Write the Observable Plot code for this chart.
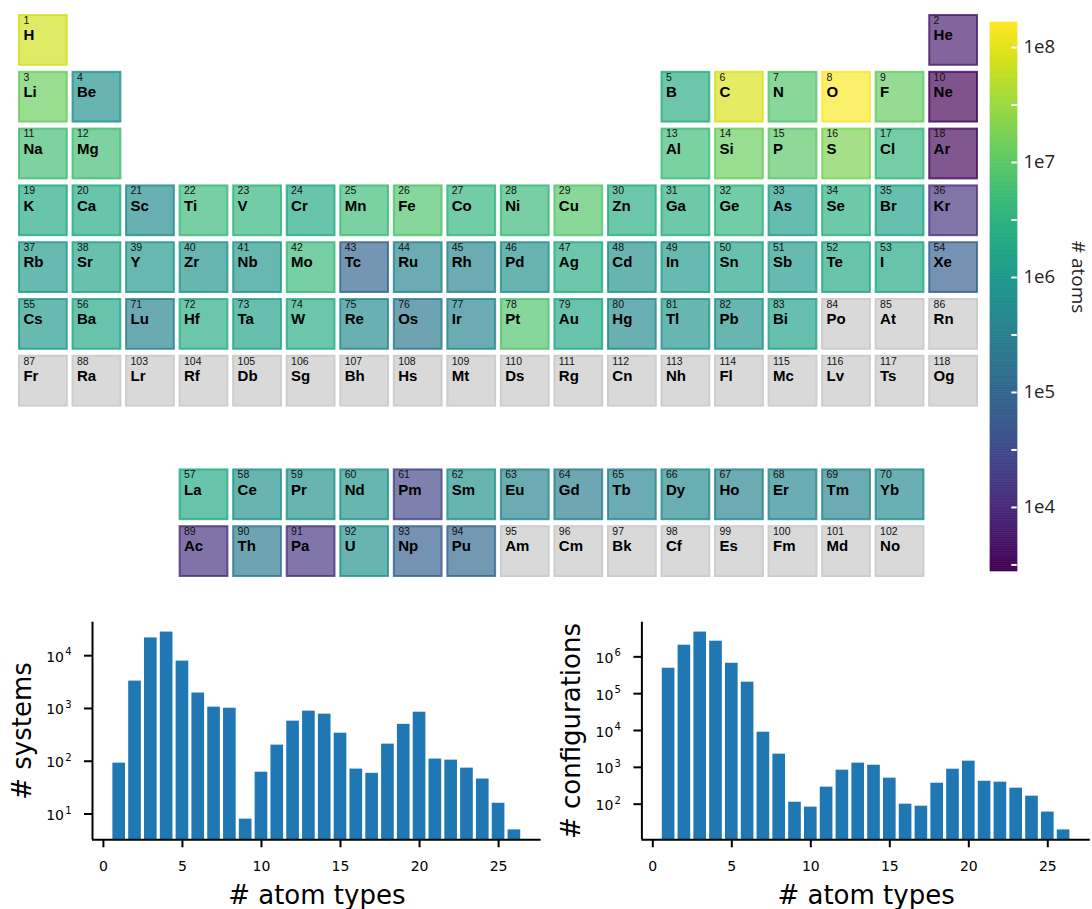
<!DOCTYPE html>
<html><head><meta charset="utf-8">
<script src="https://cdn.jsdelivr.net/npm/d3@7"></script>
<script src="https://cdn.jsdelivr.net/npm/@observablehq/plot@0.6"></script>
<style>
body{margin:0;background:#fff}
#wrap{position:relative;width:1092px;height:909px;overflow:hidden;background:#fff}
#wrap svg{position:absolute;max-width:none}
.mpl [aria-label^="x-axis"] path,.mpl [aria-label^="x-axis"] line,
.mpl [aria-label^="y-axis"] path,.mpl [aria-label^="y-axis"] line{stroke-width:2px}
.mpl [aria-label^="x-axis"] text,.mpl [aria-label^="y-axis"] text{font-size:14px;font-family:"DejaVu Sans"}
</style></head><body><div id="wrap"></div><script>
// ---- data ----
const symbols = ["H","He","Li","Be","B","C","N","O","F","Ne","Na","Mg","Al","Si","P","S","Cl","Ar","K","Ca","Sc","Ti","V","Cr","Mn","Fe","Co","Ni","Cu","Zn","Ga","Ge","As","Se","Br","Kr","Rb","Sr","Y","Zr","Nb","Mo","Tc","Ru","Rh","Pd","Ag","Cd","In","Sn","Sb","Te","I","Xe","Cs","Ba","La","Ce","Pr","Nd","Pm","Sm","Eu","Gd","Tb","Dy","Ho","Er","Tm","Yb","Lu","Hf","Ta","W","Re","Os","Ir","Pt","Au","Hg","Tl","Pb","Bi","Po","At","Rn","Fr","Ra","Ac","Th","Pa","U","Np","Pu","Am","Cm","Bk","Cf","Es","Fm","Md","No","Lr","Rf","Db","Sg","Bh","Hs","Mt","Ds","Rg","Cn","Nh","Fl","Mc","Lv","Ts","Og"];
const atomCounts = [
 7.6e7, 6000,
 1.31e7, 6.8e5, 2.5e6, 8.5e7, 8.5e6, 1.55e8, 1.18e7, 3000,
 5.5e6, 5.5e6, 4.9e6, 1.31e7, 9.5e6, 1.83e7, 3.9e6, 3500,
 2.0e6, 2.0e6, 5.4e5, 4.4e6, 3.5e6, 2.0e6, 4.9e6, 7.6e6, 3.6e6, 4.4e6, 8.5e6, 2.5e6, 2.8e6, 3.6e6, 1.17e6, 2.8e6, 1.46e6, 14000,
 1.05e6, 1.63e6, 9.4e5, 8.4e5, 9.4e5, 4.4e6, 9.3e4, 3.9e5, 3.9e5, 6.8e5, 2.26e6, 6.8e5, 1.05e6, 1.63e6, 1.05e6, 2.03e6, 1.82e6, 7.5e4,
 1.05e6, 1.82e6,
 2.03e6, 6.8e5, 6.8e5, 8.4e5, 2.5e4, 6.8e5, 3.9e5, 2.8e5, 3.9e5, 4.9e5, 3.9e5, 4.4e5, 3.9e5, 4.9e5,
 3.5e5, 2.5e6, 1.46e6, 2.26e6, 4.9e5, 2.25e5, 3.9e5, 7.6e6, 1.82e6, 4.9e5, 8.4e5, 8.4e5, 1.46e6, null, null, null,
 null, null,
 13000, 2.25e5, 15000, 6.8e5, 7.5e4, 1.04e5, null, null, null, null, null, null, null, null,
 null, null, null, null, null, null, null, null, null, null, null, null, null, null, null, null
];
const colorDomain = [2773, 1.65e8];
const colorbarTicks = [3162, 1e4, 31623, 1e5, 316228, 1e6, 3162278, 1e7, 31622777, 1e8];
const colorbarLabelValues = [1e4, 1e5, 1e6, 1e7, 1e8];
const colorbarLabels = ["1e4", "1e5", "1e6", "1e7", "1e8"];

const atomTypes = d3.range(1, 27);
const systemsCounts = [92, 3300, 21700, 28000, 7900, 1960, 1060, 1010, 8, 62, 202, 575, 890, 780, 340, 71, 59, 211, 500, 850, 110, 105, 74, 46, 16, 5];
const configCounts = [490000, 2070000, 4700000, 2660000, 670000, 205000, 9000, 2280, 113, 83, 290, 837, 1300, 1140, 508, 100, 88, 370, 890, 1470, 420, 395, 272, 165, 61, 20];
const xTicks = [0, 5, 10, 15, 20, 25];

// ---- layout helpers ----
function place(z) {
  if (z === 1) return [1, 0];
  if (z === 2) return [18, 0];
  if (z <= 4) return [z - 2, 1];
  if (z <= 10) return [z + 8, 1];
  if (z <= 12) return [z - 10, 2];
  if (z <= 18) return [z, 2];
  if (z <= 36) return [z - 18, 3];
  if (z <= 54) return [z - 36, 4];
  if (z <= 56) return [z - 54, 5];
  if (z <= 70) return [z - 53, 8];
  if (z <= 86) return [z - 68, 5];
  if (z <= 88) return [z - 86, 6];
  if (z <= 102) return [z - 85, 9];
  return [z - 100, 6];
}
const elements = symbols.map((s, i) => {
  const [col, row] = place(i + 1);
  return {z: i + 1, symbol: s, col, row, count: atomCounts[i]};
});
const wrap = document.getElementById("wrap");
const colorScale = {type: "log", scheme: "viridis", domain: colorDomain};

// ---- periodic table ----
const table = Plot.plot({
  width: 990, height: 590, margin: 0,
  style: {background: "transparent", fontFamily: "Liberation Sans, Arial, sans-serif", color: "#000"},
  x: {type: "band", domain: d3.range(1, 19), range: [14.25, 981.75], padding: 0.07, round: false, axis: null},
  y: {type: "band", domain: d3.range(0, 10), range: [9, 582], padding: 0.088, round: false, axis: null},
  color: colorScale,
  marks: [
    Plot.cell(elements.filter(d => d.count == null), {x: "col", y: "row", fill: "#d9d9d9", stroke: "#cdcdcd", strokeWidth: 2, inset: 1}),
    Plot.cell(elements.filter(d => d.count != null), {x: "col", y: "row", fill: "count", fillOpacity: 0.68, stroke: "count", strokeWidth: 2, strokeOpacity: 0.8, inset: 1}),
    Plot.text(elements, {x: "col", y: "row", text: d => String(d.z), textAnchor: "start", lineAnchor: "bottom", dx: -20, dy: -16.6, fontSize: 10.5, fill: "#111"}),
    Plot.text(elements, {x: "col", y: "row", text: "symbol", textAnchor: "start", lineAnchor: "bottom", dx: -20, dy: -0.2, fontSize: 15, fontWeight: "bold", fill: "#000"})
  ]
});
table.style.left = "0px"; table.style.top = "0px";
wrap.appendChild(table);

// ---- colorbar ----
const lo = Math.log10(colorDomain[0]), hi = Math.log10(colorDomain[1]);
const steps = d3.range(300).map(i => ({a: 10 ** (lo + (hi - lo) * i / 300), b: 10 ** (lo + (hi - lo) * (i + 1) / 300)}));
const cbar = Plot.plot({
  width: 107, height: 590, margin: 0,
  style: {background: "transparent", fontFamily: "Open Sans, sans-serif", color: "#222", overflow: "visible"},
  x: {domain: [0, 1], range: [5, 32], axis: null},
  y: {type: "log", domain: colorDomain, range: [571, 22], axis: null},
  color: colorScale,
  marks: [
    Plot.rect(steps, {x1: 0, x2: 1, y1: "a", y2: "b", fill: d => Math.sqrt(d.a * d.b), stroke: d => Math.sqrt(d.a * d.b), strokeWidth: 0.6}),
    Plot.ruleY(colorbarTicks, {x1: 0.79, x2: 0.99, stroke: "white", strokeWidth: 2}),
    Plot.text(colorbarLabelValues, {x: 1, y: d => d, text: (d, i) => colorbarLabels[i], dx: 6, textAnchor: "start", fontSize: 18.5, fill: "#222"}),
    Plot.text(["# atoms"], {x: 1, y: Math.sqrt(colorDomain[0] * colorDomain[1]), dx: 61, dy: -20, rotate: 90, fontSize: 19, fill: "#222"})
  ]
});
cbar.style.left = "985px"; cbar.style.top = "0px";
wrap.appendChild(cbar);

// ---- bar charts ----
function barChart(values, ylabel, left, marginLeft, marginRight) {
  const L = values.map(Math.log10);
  const mn = d3.min(L), mx = d3.max(L), sp = mx - mn;
  const ylo = 10 ** (mn - 0.05 * sp), yhi = 10 ** (mx + 0.05 * sp);
  const first = atomTypes[0] - 0.4, last = atomTypes[atomTypes.length - 1] + 0.4, xs = last - first;
  const xlo = first - 0.05 * xs, xhi = last + 0.05 * xs;
  const decades = d3.range(Math.ceil(Math.log10(ylo)), Math.floor(Math.log10(yhi)) + 1).map(e => 10 ** e);
  const data = atomTypes.map((n, i) => ({n, v: values[i]}));
  const chart = Plot.plot({
    width: 546, height: 309, marginTop: 21.7, marginBottom: 69.7, marginLeft, marginRight,
    className: "mpl",
    style: {background: "transparent", fontFamily: "DejaVu Sans, sans-serif", fontSize: "14px", color: "#000"},
    x: {domain: [xlo, xhi], ticks: xTicks, tickFormat: d => String(d), tickSize: 8, tickPadding: 13, label: null},
    y: {type: "log", domain: [ylo, yhi], ticks: decades, tickFormat: () => "", tickSize: 8, tickPadding: 4, label: null},
    marks: [
      Plot.rect(data, {x1: d => d.n - 0.4, x2: d => d.n + 0.4, y1: ylo, y2: "v", fill: "#1f77b4"}),
      Plot.ruleX([xlo], {stroke: "#000", strokeWidth: 2}),
      Plot.ruleY([ylo], {stroke: "#000", strokeWidth: 2}),
      Plot.text(decades, {x: xlo, y: d => d, text: () => "10", textAnchor: "end", lineAnchor: "bottom", dx: -28.5, dy: 6, fontSize: 14, fill: "#000"}),
      Plot.text(decades, {x: xlo, y: d => d, text: d => String(Math.round(Math.log10(d))), textAnchor: "start", lineAnchor: "bottom", dx: -27.3, dy: -0.5, fontSize: 10, fill: "#000"}),
      Plot.text([ylabel], {frameAnchor: "left", textAnchor: "middle", rotate: -90, dx: -70, fontSize: 26, fill: "#000"}),
      Plot.text(["# atom types"], {frameAnchor: "bottom", textAnchor: "middle", lineAnchor: "bottom", dy: 64, fontSize: 26, fill: "#000"})
    ]
  });
  chart.style.left = left + "px"; chart.style.top = "600px";
  wrap.appendChild(chart);
}
barChart(systemsCounts, "# systems", 0, 92, 5.4);
barChart(configCounts, "# configurations", 546, 95.4, 2.2);
</script></body></html>
